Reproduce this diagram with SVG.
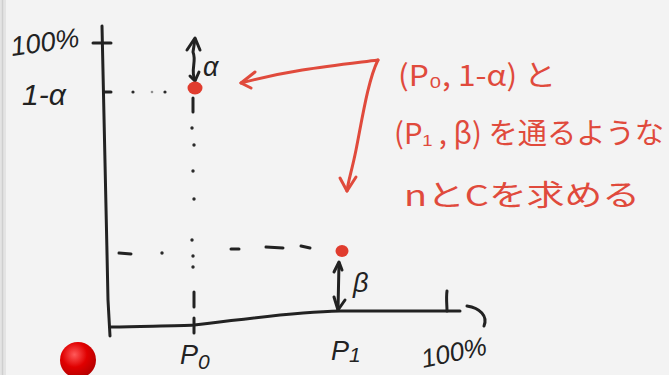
<svg xmlns="http://www.w3.org/2000/svg" width="669" height="375" viewBox="0 0 669 375">
<style>
.ink{fill:none;stroke:#222;stroke-width:3;stroke-linecap:round;stroke-linejoin:round}
.dot{fill:#2a2a2a}
.red{fill:none;stroke:#e04a3c;stroke-width:3;stroke-linecap:round;stroke-linejoin:round}
.lbl{font-family:"Liberation Sans","DejaVu Sans",sans-serif;fill:#222;font-style:italic}
.note{font-family:"Noto Sans CJK JP","Liberation Sans",sans-serif;fill:#e04a3c;font-size:29px}
.pt{fill:#e03c2e}
</style>
<defs>
<radialGradient id="ball" cx="0.4" cy="0.35" r="0.7">
<stop offset="0" stop-color="#ff5a5a"/>
<stop offset="0.5" stop-color="#e00000"/>
<stop offset="1" stop-color="#b00000"/>
</radialGradient>
</defs>
<rect width="669" height="375" fill="#f3f3f3"/>
<rect x="0" y="0" width="6" height="375" fill="#e4e4e4"/>
<line x1="2.5" y1="0" x2="2.5" y2="375" stroke="#cfcfcf" stroke-width="1.5"/>

<g id="axes">
<path class="ink" d="M102,26 C103,90 106,200 108,300 L110,336"/>
<path class="ink" d="M93,43 L111,43"/>
<path class="ink" d="M104,92 L111,92"/>
<path class="ink" d="M111,327 C150,326 180,326 194,325 C240,320 290,312 340,311 L460,311"/>
<path class="ink" d="M447,291 C446,298 447,305 447,311"/>
<path class="ink" d="M194,318 L194,333"/>
<path class="ink" d="M467,306 C480,308 488,316 484,326"/>
</g>

<g id="connectors">
<g id="guide-p0">
<circle class="dot" cx="133" cy="92" r="1.6"/>
<circle class="dot" cx="152" cy="92" r="1.3" opacity="0.5"/>
<circle class="dot" cx="165" cy="92" r="1.6"/>
<path class="ink" stroke-width="2.6" d="M193,98 L193,112"/>
<circle class="dot" cx="192" cy="128" r="1.7"/>
<circle class="dot" cx="194" cy="145" r="1.7"/>
<circle class="dot" cx="193" cy="171" r="1.7"/>
<circle class="dot" cx="194" cy="199" r="1.7"/>
<circle class="dot" cx="192" cy="240" r="1.7"/>
<circle class="dot" cx="193" cy="256" r="1.7"/>
<circle class="dot" cx="193" cy="267" r="1.7"/>
<path class="ink" stroke-width="2.6" d="M194,292 L194,307"/>
</g>
<g id="guide-p1">
<path class="ink" stroke-width="2.6" d="M119,253 L131,254"/>
<circle class="dot" cx="162" cy="253" r="1.7"/>
<path class="ink" stroke-width="2.6" d="M231,249 L239,249"/>
<path class="ink" stroke-width="2.6" d="M266,247 L283,248"/>
<path class="ink" stroke-width="2.6" d="M301,246 L310,248"/>
</g>
<g id="alpha-arrow">
<path class="ink" d="M195,80 C190,70 197,62 193,52 L195,39"/>
<path class="ink" d="M187,50 L195,38 L200,50"/>
<path class="ink" d="M190,76 L195,81 L199,72"/>
</g>
<g id="beta-arrow">
<path class="ink" d="M339,263 L338,310"/>
<path class="ink" d="M334,272 L339,262 L342,270"/>
<path class="ink" d="M334,297 L338,310 L345,300"/>
</g>
<g id="red-arrows">
<path class="red" d="M378,60 C330,66 290,70 241,83"/>
<path class="red" d="M255,72 L241,83 L251,88"/>
<path class="red" d="M378,60 C368,80 362,120 356,150 C352,170 348,182 347,191"/>
<path class="red" d="M340,178 L347,191 L356,177"/>
</g>
</g>

<g id="point-a"><ellipse class="pt" cx="195" cy="88" rx="7.5" ry="6.5"/></g>
<g id="point-b"><ellipse class="pt" cx="342" cy="251" rx="6.5" ry="6"/></g>

<g id="labels">
<text class="lbl" x="10" y="52" font-size="27" transform="rotate(-8 40 40)">100%</text>
<text class="lbl" x="22" y="105" font-size="30">1-α</text>
<text class="lbl" x="203" y="76" font-size="27">α</text>
<text class="lbl" x="353" y="292" font-size="27">β</text>
<text class="lbl" x="180" y="364" font-size="27">P<tspan font-size="21" dy="5">0</tspan></text>
<text class="lbl" x="331" y="360" font-size="27">P<tspan font-size="21" dy="2">1</tspan></text>
<text class="lbl" x="420" y="362" font-size="26" transform="rotate(-12 450 350)">100%</text>
</g>

<g id="annotation">
<text class="note" x="398" y="86" textLength="158" lengthAdjust="spacingAndGlyphs">(P₀, 1-α) と</text>
<text class="note" x="394" y="144" textLength="270" lengthAdjust="spacingAndGlyphs">(P₁ , β) を通るような</text>
<text class="note" x="404" y="206" textLength="236" lengthAdjust="spacingAndGlyphs">nとCを求める</text>
</g>

<g id="ball-node"><circle cx="78" cy="360" r="18" fill="url(#ball)"/></g>
</svg>
